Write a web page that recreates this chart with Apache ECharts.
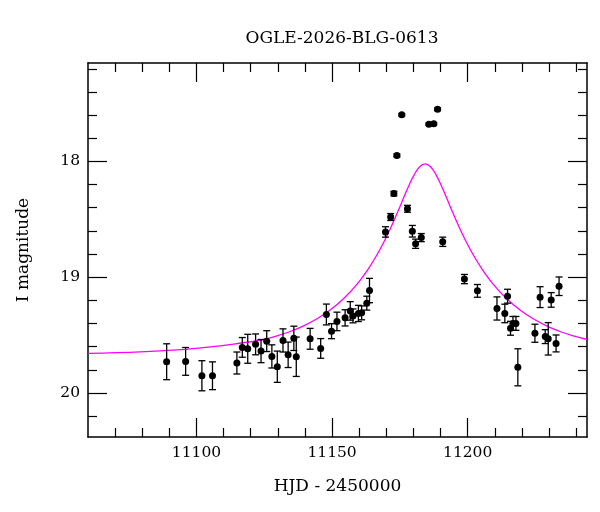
<!DOCTYPE html>
<html>
<head>
<meta charset="utf-8">
<script src="https://cdn.jsdelivr.net/npm/echarts@6/dist/echarts.min.js"></script>
<style>
  html, body { margin: 0; padding: 0; background: #fff; }
  #chart { width: 600px; height: 512px; }
</style>
</head>
<body>
<div id="chart"></div>
<script>
// photometry: HJD - 2450000, I magnitude, 1-sigma error
const hjd = [11089.0, 11096.0, 11102.0, 11105.9, 11114.9, 11116.9, 11118.9, 11121.8, 11123.8, 11125.9,
  11127.8, 11129.8, 11131.9, 11133.8, 11135.9, 11136.8, 11141.9, 11145.8, 11147.9, 11149.8,
  11151.8, 11154.8, 11156.7, 11157.7, 11159.7, 11160.9, 11162.8, 11163.8, 11169.7, 11171.6,
  11172.8, 11173.9, 11175.7, 11177.8, 11179.6, 11180.8, 11182.9, 11185.7, 11187.5, 11188.9,
  11190.8, 11198.8, 11203.6, 11210.8, 11213.7, 11214.7, 11215.8, 11216.7, 11217.8, 11218.5,
  11224.8, 11226.7, 11228.6, 11229.7, 11230.8, 11232.6, 11233.7]
const mag = [19.730, 19.727, 19.851, 19.851, 19.741, 19.606, 19.618, 19.580, 19.638, 19.552,
  19.684, 19.773, 19.546, 19.670, 19.528, 19.687, 19.532, 19.615, 19.322, 19.466,
  19.382, 19.351, 19.291, 19.334, 19.313, 19.308, 19.224, 19.115, 18.609, 18.480,
  18.278, 17.948, 17.597, 18.409, 18.603, 18.711, 18.658, 17.678, 17.675, 17.549,
  18.694, 19.016, 19.118, 19.270, 19.313, 19.164, 19.441, 19.399, 19.399, 19.778,
  19.484, 19.172, 19.513, 19.532, 19.196, 19.572, 19.078]
const magErr = [0.155, 0.120, 0.130, 0.120, 0.095, 0.085, 0.125, 0.090, 0.100, 0.090,
  0.100, 0.135, 0.100, 0.110, 0.105, 0.170, 0.090, 0.085, 0.090, 0.065,
  0.080, 0.070, 0.080, 0.060, 0.070, 0.060, 0.060, 0.105, 0.045, 0.030,
  0.020, 0.012, 0.010, 0.030, 0.050, 0.040, 0.035, 0.010, 0.010, 0.012,
  0.040, 0.040, 0.055, 0.100, 0.080, 0.060, 0.060, 0.060, 0.060, 0.160,
  0.078, 0.090, 0.060, 0.140, 0.063, 0.073, 0.080]

// model curve
const modelT = [11060, 11079.3, 11094.3, 11104.3, 11114.3, 11124.3, 11129.3, 11134.3, 11139.3, 11144.3,
  11149.3, 11154.3, 11159.3, 11163.3, 11166.3, 11169.3, 11172.3, 11174.3, 11176.3, 11178.3,
  11180.3, 11182.3, 11184.3, 11186.3, 11188.3, 11190.3, 11192.3, 11194.3, 11196.3, 11199.3,
  11202.3, 11205.3, 11209.3, 11214.3, 11219.3, 11224.3, 11229.3, 11234.3, 11239.3, 11244]
const modelMag = [19.658, 19.645, 19.625, 19.603, 19.575, 19.540, 19.509, 19.471, 19.422, 19.361,
  19.283, 19.184, 19.057, 18.930, 18.817, 18.687, 18.538, 18.431, 18.319, 18.210,
  18.114, 18.046, 18.021, 18.046, 18.114, 18.210, 18.319, 18.431, 18.538, 18.687,
  18.817, 18.930, 19.057, 19.184, 19.283, 19.361, 19.422, 19.471, 19.509, 19.538]

// ticks
const xMajor = [11100, 11150, 11200]
const xMinor = [11070, 11080, 11090, 11110, 11120, 11130, 11140, 11160, 11170, 11180, 11190,
  11210, 11220, 11230, 11240]
const yMajor = [18, 19, 20]
const yMinor = [17.2, 17.4, 17.6, 17.8, 18.2, 18.4, 18.6, 18.8, 19.2, 19.4, 19.6, 19.8, 20.2]

const FONT = "DejaVu Serif"
const X_MIN = 11060, X_MAX = 11244
const Y_MIN = 17.15, Y_MAX = 20.38

const chart = echarts.init(document.getElementById("chart"))

function xAxisDef(position, ticks, len, labels, main) {
  return {
    type: "value", position: position, min: X_MIN, max: X_MAX,
    splitLine: { show: false },
    axisLine: { show: main, onZero: false, lineStyle: { color: "#000", width: 1.5 } },
    axisTick: { show: true, inside: true, length: len, customValues: ticks,
      lineStyle: { color: "#000", width: 1.2 } },
    axisLabel: { show: labels, customValues: xMajor, margin: 8,
      formatter: (v) => String(v),
      fontFamily: FONT, fontSize: 15.5, color: "#000" },
    name: labels ? "HJD - 2450000" : "",
    nameLocation: "middle", nameGap: 41,
    nameTextStyle: { fontFamily: FONT, fontSize: 17, color: "#000" }
  }
}

function yAxisDef(position, ticks, len, labels, main) {
  return {
    type: "value", position: position, inverse: true, min: Y_MIN, max: Y_MAX,
    splitLine: { show: false },
    axisLine: { show: main, onZero: false, lineStyle: { color: "#000", width: 1.5 } },
    axisTick: { show: true, inside: true, length: len, customValues: ticks,
      lineStyle: { color: "#000", width: 1.2 } },
    axisLabel: { show: labels, customValues: yMajor, margin: 8,
      formatter: (v) => String(v),
      fontFamily: FONT, fontSize: 15.5, color: "#000" },
    name: labels ? "I magnitude" : "",
    nameLocation: "middle", nameGap: 56, nameRotate: 90,
    nameTextStyle: { fontFamily: FONT, fontSize: 17, color: "#000" }
  }
}

// error bars drawn with the axes' own scales
function renderErr(params, api) {
  const t = api.value(0)
  const lo = api.coord([t, api.value(1)])
  const hi = api.coord([t, api.value(2)])
  const w = 3.5
  const style = { stroke: "#000", lineWidth: 1.3 }
  return {
    type: "group",
    children: [
      { type: "line", shape: { x1: lo[0], y1: lo[1], x2: hi[0], y2: hi[1] }, style: style },
      { type: "line", shape: { x1: lo[0] - w, y1: lo[1], x2: lo[0] + w, y2: lo[1] }, style: style },
      { type: "line", shape: { x1: hi[0] - w, y1: hi[1], x2: hi[0] + w, y2: hi[1] }, style: style }
    ]
  }
}

const option = {
  animation: false,
  backgroundColor: "#fff",
  title: {
    text: "OGLE-2026-BLG-0613",
    left: 337, top: 25, textAlign: "center",
    textStyle: { fontFamily: FONT, fontSize: 17, fontWeight: "normal", color: "#000" }
  },
  grid: { left: 88, right: 13, top: 63, bottom: 75 },
  xAxis: [
    xAxisDef("bottom", xMajor, 19, true, true),
    xAxisDef("bottom", xMinor, 9, false, false),
    xAxisDef("top", xMajor, 19, false, true),
    xAxisDef("top", xMinor, 9, false, false)
  ],
  yAxis: [
    yAxisDef("left", yMajor, 19, true, true),
    yAxisDef("left", yMinor, 9, false, false),
    yAxisDef("right", yMajor, 19, false, true),
    yAxisDef("right", yMinor, 9, false, false)
  ],
  series: [
    {
      type: "line",
      data: modelT.map((t, i) => [t, modelMag[i]]),
      smooth: 0.4,
      showSymbol: false,
      lineStyle: { color: "#ff00ff", width: 1.3 },
      z: 1
    },
    {
      type: "custom",
      renderItem: renderErr,
      data: hjd.map((t, i) => [t, mag[i] - magErr[i], mag[i] + magErr[i]]),
      encode: { x: 0, y: [1, 2] },
      z: 2
    },
    {
      type: "scatter",
      data: hjd.map((t, i) => [t, mag[i]]),
      symbol: "circle",
      symbolSize: 7,
      itemStyle: { color: "#000", opacity: 1 },
      z: 3
    }
  ]
}

chart.setOption(option)
</script>
</body>
</html>
